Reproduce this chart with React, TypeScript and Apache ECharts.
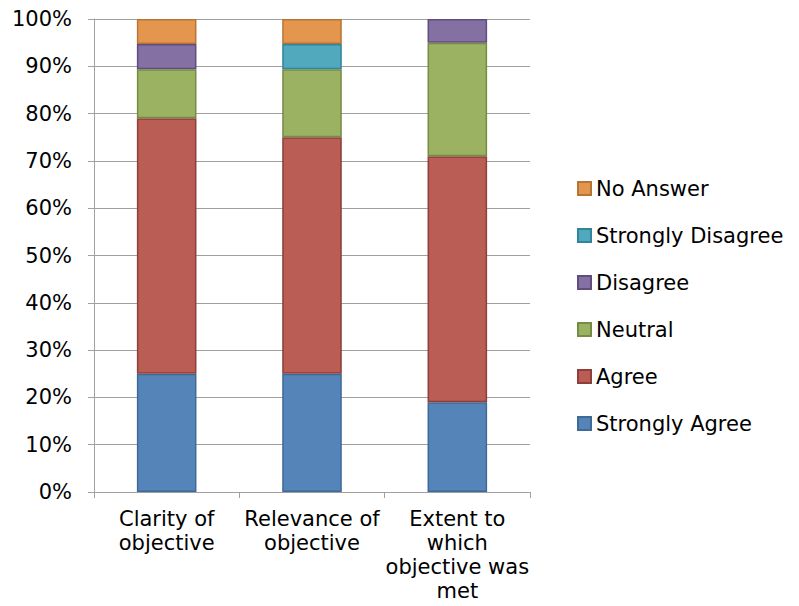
import React, { useEffect, useRef } from "react";
import * as echarts from "echarts";

// Survey questions (x-axis categories)
const categories = [
  "Clarity of\nobjective",
  "Relevance of\nobjective",
  "Extent to\nwhich\nobjective was\nmet",
];

// Share of responses (%) per question, stacked bottom to top; null = no responses
const stronglyAgree = [25, 25, 19];
const agree = [54, 50, 52];
const neutral = [10.4, 14.4, 24];
const disagree = [5.3, null, 5];
const stronglyDisagree = [null, 5.3, null];
const noAnswer = [5.3, 5.3, null];

const yTicks = [0, 10, 20, 30, 40, 50, 60, 70, 80, 90, 100];

const seriesDefs = [
  { name: "Strongly Agree", data: stronglyAgree, color: "#5585B8", border: "#3F6A98" },
  { name: "Agree", data: agree, color: "#B95D55", border: "#8E3F3A" },
  { name: "Neutral", data: neutral, color: "#9BB262", border: "#768C44" },
  { name: "Disagree", data: disagree, color: "#8470A2", border: "#5F4E7C" },
  { name: "Strongly Disagree", data: stronglyDisagree, color: "#50A9BC", border: "#32849A" },
  { name: "No Answer", data: noAnswer, color: "#E4964E", border: "#B87434" },
];

const FONT = "DejaVu Sans, Verdana, sans-serif";

export default function App() {
  const ref = useRef<HTMLDivElement>(null);

  useEffect(() => {
    if (!ref.current) return;
    const chart = echarts.init(ref.current, null, { renderer: "svg" });
    chart.setOption({
      animation: false,
      textStyle: { fontFamily: FONT },
      grid: { left: 94, right: 269, top: 19, bottom: 114, containLabel: false },
      legend: {
        orient: "vertical",
        left: 577,
        top: 178,
        padding: 0,
        itemWidth: 13,
        itemHeight: 13,
        itemGap: 26,
        icon: "rect",
        textStyle: { fontFamily: FONT, fontSize: 21, color: "#000" },
        data: [...seriesDefs].reverse().map((s) => s.name),
      },
      xAxis: {
        type: "category",
        data: categories,
        axisLine: { lineStyle: { color: "#a0a0a0", width: 1 } },
        axisTick: { show: true, length: 6, alignWithLabel: false, lineStyle: { color: "#a0a0a0" } },
        axisLabel: {
          fontFamily: FONT,
          fontSize: 21,
          color: "#000",
          lineHeight: 24,
          margin: 15,
          interval: 0,
          align: "center",
        },
      },
      yAxis: {
        type: "value",
        min: 0,
        max: 100,
        interval: 10,
        axisLine: { show: true, lineStyle: { color: "#a0a0a0", width: 1 } },
        axisTick: { show: true, length: 6, lineStyle: { color: "#a0a0a0" } },
        splitLine: { lineStyle: { color: "#a0a0a0", width: 1 } },
        axisLabel: {
          fontFamily: FONT,
          fontSize: 21,
          color: "#000",
          margin: 22,
          formatter: (v: number) => (yTicks.includes(v) ? `${v}%` : ""),
        },
      },
      series: seriesDefs.map((s) => ({
        name: s.name,
        type: "bar",
        stack: "total",
        barWidth: "41%",
        data: s.data,
        itemStyle: { color: s.color, borderColor: s.border, borderWidth: 1.5 },
      })),
    });
    return () => chart.dispose();
  }, []);

  return <div ref={ref} style={{ width: 799, height: 606, position: "absolute", left: 0, top: 0 }} />;
}
